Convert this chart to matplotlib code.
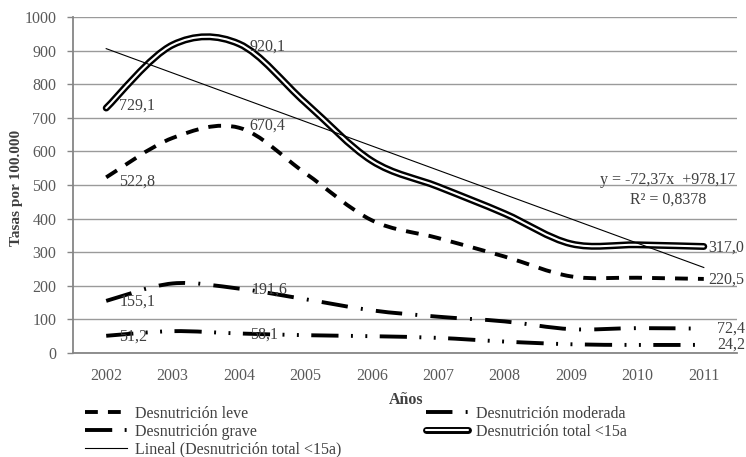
import numpy as np
import matplotlib
matplotlib.use("Agg")
import matplotlib.pyplot as plt
from matplotlib.path import Path
from matplotlib.patches import PathPatch
from matplotlib.lines import Line2D

plt.rcParams['font.family'] = ['Liberation Serif', 'DejaVu Serif']

years = ["2002", "2003", "2004", "2005", "2006", "2007", "2008", "2009", "2010", "2011"]
leve = [522.8, 640, 670.4, 535, 395, 342, 287, 228, 224, 220.5]
moderada = [155.1, 207, 191.6, 160, 127, 108, 94, 71, 74, 72.4]
grave = [51.2, 65, 58.1, 53, 50, 45, 34, 26, 24, 24.2]
total = [729.1, 917, 920.1, 745, 572, 495, 415, 325, 322, 317.0]

# linear trend of the total series (x = 1..10)
trend_slope = -72.37
trend_intercept = 978.17
trend_r2 = 0.8378

# points that carry a data label
labelled = {
    "leve": [0, 2, 9],
    "moderada": [0, 2, 9],
    "grave": [0, 2, 9],
    "total": [0, 2, 9],
}

TXT = "#404040"
TICK = "#595959"
GRID = "#9a9a9a"


def smooth_path(xs, ys):
    pts = np.column_stack([xs, ys]).astype(float)
    n = len(pts)
    verts = [pts[0]]
    codes = [Path.MOVETO]
    for i in range(n - 1):
        p0 = pts[max(i - 1, 0)]
        p1 = pts[i]
        p2 = pts[i + 1]
        p3 = pts[min(i + 2, n - 1)]
        verts += [p1 + (p2 - p0) / 6.0, p2 - (p3 - p1) / 6.0, p2]
        codes += [Path.CURVE4] * 3
    return Path(verts, codes)


fig = plt.figure(figsize=(7.46, 4.57), dpi=100)
W, H = 746, 457
ax = fig.add_axes([73 / W, 1 - 353 / H, (737 - 73) / W, (353 - 17) / H])

x = np.arange(len(years))
ax.set_xlim(-0.5, len(years) - 0.5)
ax.set_ylim(0, 1000)

# horizontal grid
ax.set_yticks(np.arange(0, 1001, 100))
ax.yaxis.grid(True, color=GRID, linewidth=1.0)
ax.set_axisbelow(True)

LW = 2.8
style_leve = (0, (3.3, 2.6))
style_mod = (0, (6.8, 3.4, 0.5, 3.4))
style_grave = (0, (7.0, 3.2, 0.5, 3.2, 0.5, 3.2))

for vals, ls in [(leve, style_leve), (moderada, style_mod), (grave, style_grave)]:
    p = PathPatch(smooth_path(x, vals), fill=False, edgecolor="black",
                  linewidth=LW, linestyle=ls, capstyle="butt", zorder=3)
    ax.add_patch(p)

# double line for the total
outer = PathPatch(smooth_path(x, total), fill=False, edgecolor="black",
                  linewidth=5.0, capstyle="round", joinstyle="round", zorder=4)
inner = PathPatch(smooth_path(x, total), fill=False, edgecolor="white",
                  linewidth=1.5, capstyle="round", joinstyle="round", zorder=5)
ax.add_patch(outer)
ax.add_patch(inner)

# trend line
tx = np.array([x[0], x[-1]])
ty = trend_slope * (tx + 1) + trend_intercept
ax.plot(tx, ty, color="black", linewidth=0.8, zorder=6)

ax.annotate("y = -72,37x  +978,17", xy=(668, H - 180), xycoords="figure pixels",
            ha="center", va="center", fontsize=11.5, color=TXT)
ax.annotate("R² = " + f"{trend_r2:.4f}".replace(".", ","), xy=(668, H - 200),
            xycoords="figure pixels", ha="center", va="center",
            fontsize=11.5, color=TXT)


def fmt(v):
    return f"{v:.1f}".replace(".", ",")


series = {"leve": leve, "moderada": moderada, "grave": grave, "total": total}
offsets = {
    ("total", 0): (13, -2), ("total", 2): (10, 3), ("total", 9): (4, 1),
    ("leve", 0): (13, 4), ("leve", 2): (10, -2), ("leve", 9): (4, 1),
    ("moderada", 0): (13, 1), ("moderada", 2): (13, 1), ("moderada", 9): (13, 0),
    ("grave", 0): (13, 1), ("grave", 2): (11, 1), ("grave", 9): (13, 0),
}
for name, idxs in labelled.items():
    vals = series[name]
    for i in idxs:
        dx, dy = offsets[(name, i)]
        ax.annotate(fmt(vals[i]), xy=(x[i], vals[i]), xytext=(dx, -dy),
                    textcoords="offset pixels", ha="left", va="center",
                    fontsize=11.5, color=TXT, zorder=7)

# axes styling
ax.set_xticks(x)
ax.set_xticklabels(years)
for s in ["top", "right"]:
    ax.spines[s].set_visible(False)
for s in ["left", "bottom"]:
    ax.spines[s].set_color("#868686")
    ax.spines[s].set_linewidth(1.3)
ax.tick_params(axis="x", length=0, pad=11, labelsize=11.5, labelcolor=TICK)
ax.tick_params(axis="y", length=4, width=1.0, color="#868686", pad=8,
               labelsize=11.5, labelcolor=TICK)

fig.text(17 / W, 1 - 188 / H, "Tasas por 100.000", rotation=90, ha="center",
         va="center", fontsize=11, fontweight="bold", color=TXT)
fig.text(406 / W, 1 - 400 / H, "Años", ha="center", va="center",
         fontsize=11.5, fontweight="bold", color=TXT)

# legend
h_leve = Line2D([], [], color="black", lw=LW, linestyle=style_leve)
h_mod = Line2D([], [], color="black", lw=LW, linestyle=style_mod)
h_grave = Line2D([], [], color="black", lw=LW, linestyle=style_grave)
h_tot = (Line2D([], [], color="black", lw=5.0, solid_capstyle="round"),
         Line2D([], [], color="white", lw=1.5, solid_capstyle="round"))
h_lin = Line2D([], [], color="black", lw=0.8)

common = dict(frameon=False, fontsize=11.5, borderpad=0, borderaxespad=0,
              handlelength=2.6, handletextpad=0.5, labelspacing=0.12,
              labelcolor=TXT, loc="upper left")
fig.legend([h_leve, h_grave, h_lin],
           ["Desnutrición leve", "Desnutrición grave",
            "Lineal (Desnutrición total <15a)"],
           bbox_to_anchor=(85 / W, 1 - 406 / H), **common)
fig.legend([h_mod, h_tot],
           ["Desnutrición moderada", "Desnutrición total <15a"],
           bbox_to_anchor=(426 / W, 1 - 406 / H), **common)

fig.savefig("out.png", dpi=100)
